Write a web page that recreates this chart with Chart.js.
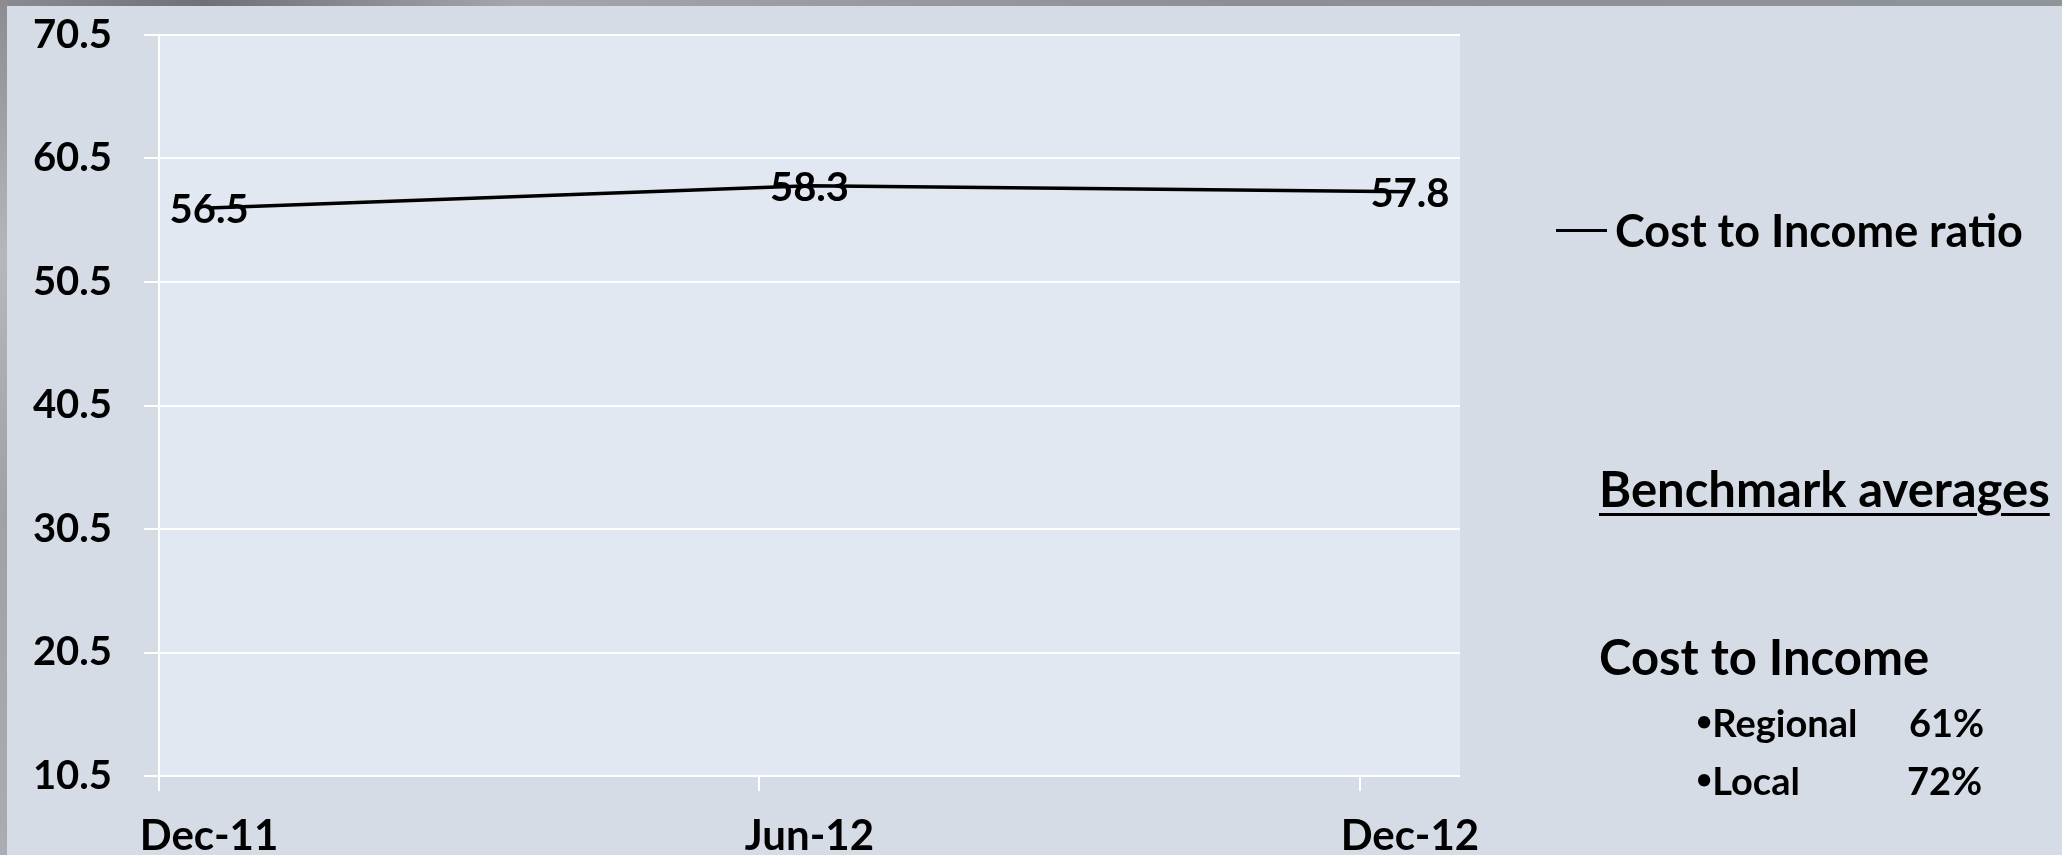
<!DOCTYPE html>
<html>
<head>
<meta charset="utf-8">
<script src="https://cdn.jsdelivr.net/npm/chart.js@4.4.1/dist/chart.umd.min.js"></script>
<style>
  html, body { margin: 0; padding: 0; }
  body {
    width: 2062px; height: 855px; overflow: hidden; position: relative;
    background: #d5dce6;
    font-family: Lato, "Open Sans", sans-serif; font-weight: bold; color: #000;
  }
  #topbar { position: absolute; left: 0; top: 0; width: 2062px; height: 6px;
    background: linear-gradient(90deg, #8a8c92 0%, #6f7177 10%, #a3a6ab 25%, #8c8f94 60%, #90959a 100%); }
  #leftbar { position: absolute; left: 0; top: 0; width: 7px; height: 855px;
    background: linear-gradient(180deg, #8a8c92 0%, #b4b7bc 30%, #9ea1a6 60%, #a9acb1 100%); }
  #wrap { position: absolute; left: 0; top: 0; width: 2062px; height: 855px; }
  .txt { position: absolute; white-space: pre; line-height: 1; }
  .dot { font-size: 28px; vertical-align: 6px; }
  #legend { position: absolute; left: 1556px; top: 208px; display: flex; align-items: center; }
  #legend .swatch { width: 51px; height: 3px; margin-right: 8px; }
  #legend .label { font-size: 45px; line-height: 1; }
</style>
</head>
<body>
<div id="topbar"></div>
<div id="leftbar"></div>
<div id="wrap"><canvas id="chart"></canvas></div>
<div id="legend"></div>

<div class="txt" style="left:1599px; top:464px; font-size:49px; text-decoration:underline; text-decoration-thickness:3px; text-underline-offset:6px;">Benchmark averages</div>
<div class="txt" style="left:1599px; top:632px; font-size:49px;">Cost to Income</div>
<div class="txt" style="left:1696px; top:703px; font-size:38px;"><span class="dot">•</span>Regional</div>
<div class="txt" style="left:1909px; top:703px; font-size:38px;">61%</div>
<div class="txt" style="left:1696px; top:761px; font-size:38px;"><span class="dot">•</span>Local</div>
<div class="txt" style="left:1907px; top:761px; font-size:38px;">72%</div>

<script>
// periods shown on the x axis, as month offsets from Dec-11
const periods = ["Dec-11", "Jun-12", "Dec-12"];
const monthOffset = [0, 6, 12];
const costToIncome = [56.5, 58.3, 57.8];
const yTicks = [10.5, 20.5, 30.5, 40.5, 50.5, 60.5, 70.5];

const plotFill = "#e1e8f2";

// light panel behind the plot area
const plotBackground = {
  id: "plotBackground",
  beforeDraw(chart) {
    const { ctx, chartArea: a } = chart;
    ctx.save();
    ctx.fillStyle = plotFill;
    ctx.fillRect(a.left, a.top, a.right - a.left, a.bottom - a.top);
    ctx.restore();
  },
};

// value labels centred on each point
const valueLabels = {
  id: "valueLabels",
  beforeDatasetsDraw(chart) {
    const { ctx } = chart;
    ctx.save();
    ctx.font = "bold 40px Lato";
    ctx.fillStyle = "#000";
    ctx.textAlign = "center";
    ctx.textBaseline = "middle";
    chart.data.datasets.forEach((ds, i) => {
      chart.getDatasetMeta(i).data.forEach((pt, j) => {
        ctx.fillText(ds.data[j].y.toFixed(1), pt.x, pt.y + 2);
      });
    });
    ctx.restore();
  },
};

const buildLegend = chart => {
  const legend = document.getElementById("legend");
  legend.innerHTML = "";
  chart.data.datasets.forEach(ds => {
    legend.innerHTML += `<span class="swatch" style="background:${ds.borderColor}"></span><span class="label">${ds.label}</span>`;
  });
};

const drawChart = () => {
  const ctx = document.getElementById("chart").getContext("2d");
  const chart = new Chart(ctx, {
    type: "line",
    data: {
      datasets: [
        {
          label: "Cost to Income ratio",
          // points sit in the middle of their month
          data: monthOffset.map((m, i) => ({ x: m + 0.5, y: costToIncome[i] })),
          borderColor: "#000000",
          borderWidth: 3.5,
          pointRadius: 0,
          tension: 0,
          fill: false,
        },
      ],
    },
    options: {
      responsive: true,
      maintainAspectRatio: false,
      animation: false,
      devicePixelRatio: 1,
      layout: { padding: { top: 35, right: 602, left: 0, bottom: 0 } },
      plugins: {
        legend: { display: false },
        tooltip: { enabled: false },
      },
      scales: {
        x: {
          type: "linear",
          min: 0,
          max: 13,
          afterBuildTicks: scale => {
            scale.ticks = monthOffset.map(v => ({ value: v }));
          },
          afterFit: scale => {
            scale.height = 79;
            scale.paddingLeft = 0;
            scale.paddingRight = 0;
          },
          grid: {
            drawOnChartArea: false,
            drawTicks: true,
            tickLength: 15,
            color: "#ffffff",
            lineWidth: 2,
          },
          border: { display: false },
          ticks: {
            autoSkip: false,
            maxRotation: 0,
            labelOffset: 50,
            padding: 20,
            color: "#000",
            font: { family: "Lato", size: 42, weight: "bold" },
            callback: value => periods[monthOffset.indexOf(value)] || "",
          },
        },
        y: {
          min: yTicks[0],
          max: yTicks[yTicks.length - 1],
          afterBuildTicks: scale => {
            scale.ticks = yTicks.map(v => ({ value: v }));
          },
          afterFit: scale => {
            scale.width = 159;
            scale.paddingTop = 0;
            scale.paddingBottom = 0;
          },
          grid: {
            color: "#ffffff",
            lineWidth: 2,
            tickLength: 15,
          },
          border: { display: true, color: "#ffffff", width: 2 },
          ticks: {
            padding: 32,
            color: "#000",
            font: { family: "Lato", size: 40, weight: "bold" },
            callback: value => value.toFixed(1),
          },
        },
      },
    },
    plugins: [plotBackground, valueLabels],
  });
  buildLegend(chart);
};

document.fonts.load("bold 40px Lato").then(drawChart, drawChart);
</script>
</body>
</html>
